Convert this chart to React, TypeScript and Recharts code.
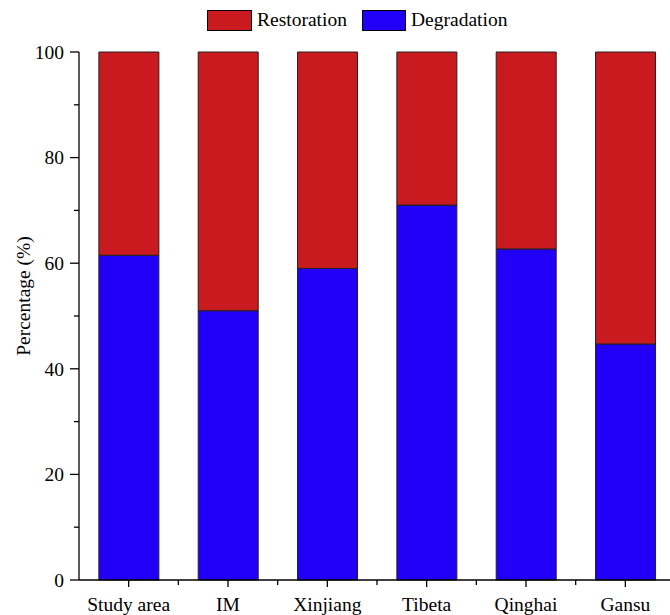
import React from 'react';
import { BarChart, Bar, XAxis, YAxis, Legend } from 'recharts';

const categories = ['Study area', 'IM', 'Xinjiang', 'Tibeta', 'Qinghai', 'Gansu'];
const degradation = [61.5, 51.0, 59.0, 71.0, 62.7, 44.7];
const restoration = degradation.map((d) => Math.round((100 - d) * 10) / 10);
const yTicks = [0, 10, 20, 30, 40, 50, 60, 70, 80, 90, 100];

const data = categories.map((name, i) => ({
  name,
  Degradation: degradation[i],
  Restoration: restoration[i],
}));

const RED = '#C91A1F';
const BLUE = '#2200F8';
const FONT = '"Liberation Serif", "Times New Roman", serif';
const FS = 19.5;

const YTick = (props: any) => {
  const { x, y, payload } = props;
  const axisX = x + 15;
  const major = payload.value % 20 === 0;
  return (
    <g>
      <line x1={axisX - (major ? 9 : 5)} x2={axisX} y1={y} y2={y} stroke="#000" strokeWidth={1.3} />
      {major && (
        <text x={x} y={y} dy="0.35em" textAnchor="end" fontFamily={FONT} fontSize={FS} fill="#000">
          {payload.value}
        </text>
      )}
    </g>
  );
};

const XTick = (props: any) => {
  const { x, y, payload, width } = props;
  const band = width / categories.length;
  const axisY = y - 10;
  return (
    <g>
      <line x1={x} x2={x} y1={axisY} y2={axisY + 7} stroke="#000" strokeWidth={1.3} />
      <line x1={x + band / 2} x2={x + band / 2} y1={axisY} y2={axisY + 5} stroke="#000" strokeWidth={1.3} />
      <text x={x} y={y + 6} dy="0.75em" textAnchor="middle" fontFamily={FONT} fontSize={FS} fill="#000">
        {payload.value}
      </text>
    </g>
  );
};

const LegendContent = () => (
  <div style={{ position: 'relative', height: 40, fontFamily: FONT, fontSize: FS, color: '#000' }}>
    <div style={{ position: 'absolute', left: 207, top: 10, width: 43, height: 19, background: RED, border: '1px solid #000' }} />
    <div style={{ position: 'absolute', left: 257, top: 8, lineHeight: '24px' }}>Restoration</div>
    <div style={{ position: 'absolute', left: 362, top: 10, width: 42, height: 19, background: BLUE, border: '1px solid #000' }} />
    <div style={{ position: 'absolute', left: 411, top: 8, lineHeight: '24px' }}>Degradation</div>
  </div>
);

const YLabel = (props: any) => {
  const vb = props.viewBox || {};
  const cx = (vb.x ?? 0) + 30;
  const cy = (vb.y ?? 52) + (vb.height ?? 528) / 2 - 20;
  return (
    <text
      x={cx}
      y={cy}
      transform={`rotate(-90, ${cx}, ${cy})`}
      textAnchor="middle"
      fontFamily={FONT}
      fontSize={FS}
      fill="#000"
    >
      Percentage (%)
    </text>
  );
};

export default function App() {
  return (
    <div style={{ position: 'absolute', left: 0, top: 0, width: 670, height: 615, overflow: 'hidden', background: '#fff' }}>
      <BarChart
        width={690}
        height={615}
        data={data}
        margin={{ top: 52, right: 15, bottom: 0, left: 0 }}
        barCategoryGap="20%"
      >
        <Legend
          verticalAlign="middle"
          layout="horizontal"
          content={<LegendContent />}
          wrapperStyle={{ top: 0, left: 0, width: 670, height: 40 }}
        />
        <XAxis
          dataKey="name"
          height={35}
          axisLine={{ stroke: '#000', strokeWidth: 1.3 }}
          tickLine={false}
          tickSize={10}
          tick={<XTick />}
          tickMargin={0}
          interval={0}
        />
        <YAxis
          width={79}
          domain={[0, 100]}
          ticks={yTicks}
          interval={0}
          axisLine={{ stroke: '#000', strokeWidth: 1.3 }}
          tickLine={false}
          tickSize={9}
          tickMargin={6}
          tick={<YTick />}
          label={<YLabel />}
        />
        <Bar dataKey="Degradation" stackId="a" fill={BLUE} stroke="#222" strokeWidth={1} isAnimationActive={false} />
        <Bar dataKey="Restoration" stackId="a" fill={RED} stroke="#222" strokeWidth={1} isAnimationActive={false} />
      </BarChart>
    </div>
  );
}
